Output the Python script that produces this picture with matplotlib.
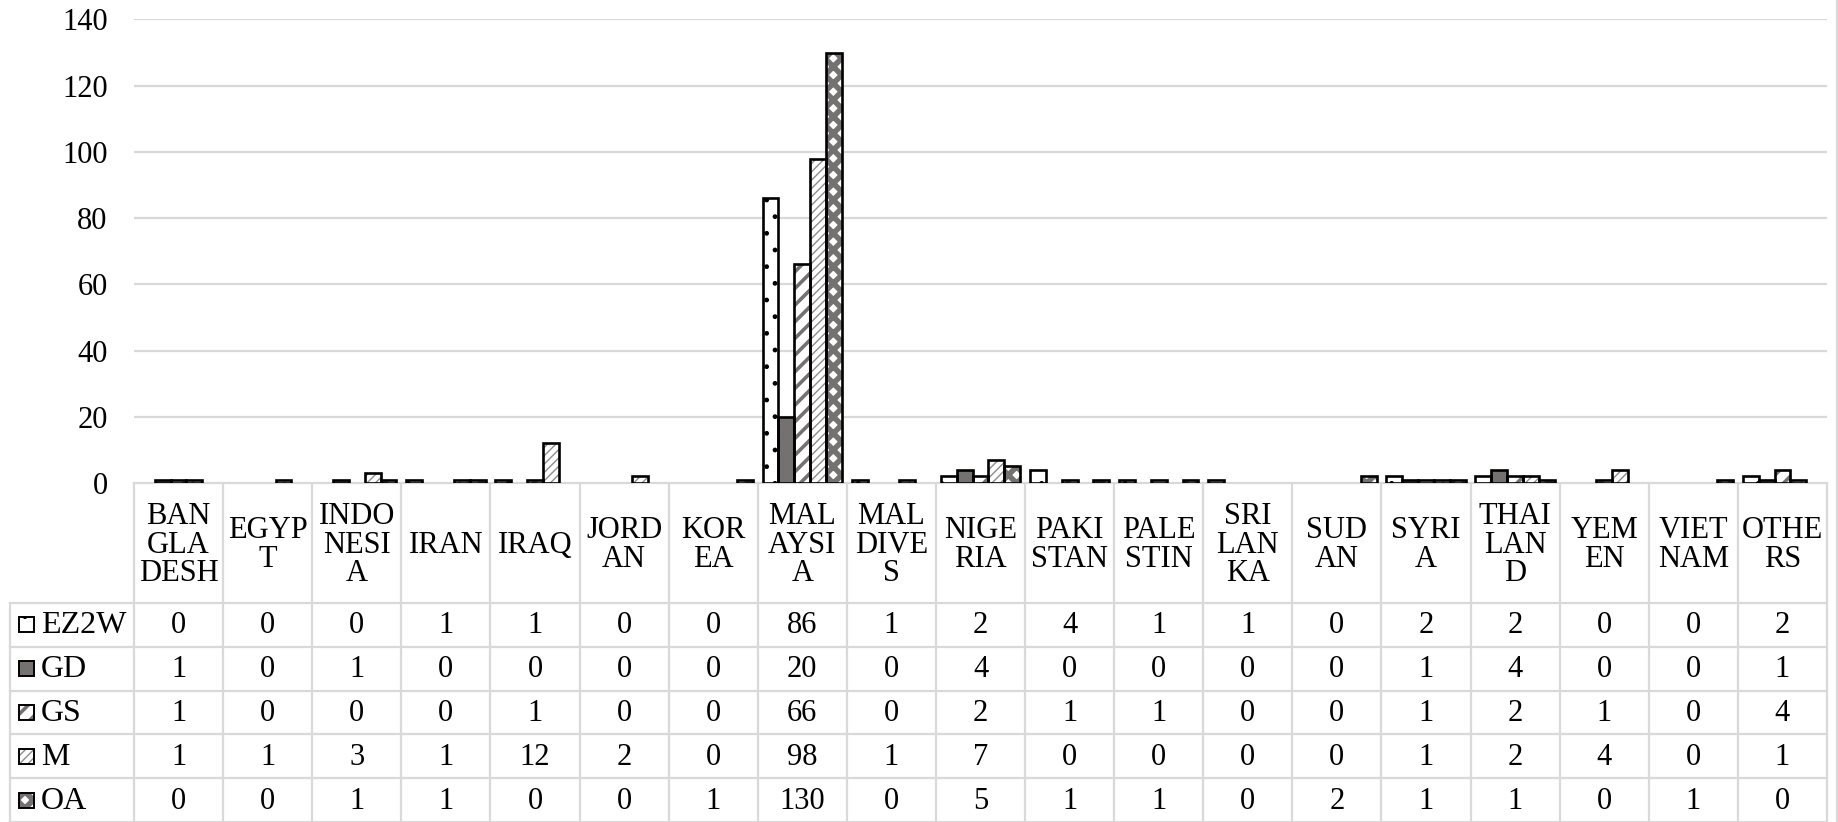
import matplotlib
matplotlib.use("Agg")
import matplotlib.pyplot as plt
import numpy as np
from matplotlib.patches import Rectangle

# ─── Data ─────────────────────────────────────────────────────────────────────
categories = ["BANGLADESH", "EGYPT", "INDONESIA", "IRAN", "IRAQ", "JORDAN",
              "KOREA", "MALAYSIA", "MALDIVES", "NIGERIA", "PAKISTAN",
              "PALESTIN", "SRI LANKA", "SUDAN", "SYRIA", "THAILAND", "YEMEN",
              "VIETNAM", "OTHERS"]
header_labels = ["BAN\nGLA\nDESH", "EGYP\nT", "INDO\nNESI\nA", "IRAN", "IRAQ",
                 "JORD\nAN", "KOR\nEA", "MAL\nAYSI\nA", "MAL\nDIVE\nS",
                 "NIGE\nRIA", "PAKI\nSTAN", "PALE\nSTIN", "SRI\nLAN\nKA",
                 "SUD\nAN", "SYRI\nA", "THAI\nLAN\nD", "YEM\nEN", "VIET\nNAM",
                 "OTHE\nRS"]
series_names = ["EZ2W", "GD", "GS", "M", "OA"]
ez2w = [0, 0, 0, 1, 1, 0, 0, 86, 1, 2, 4, 1, 1, 0, 2, 2, 0, 0, 2]
gd   = [1, 0, 1, 0, 0, 0, 0, 20, 0, 4, 0, 0, 0, 0, 1, 4, 0, 0, 1]
gs   = [1, 0, 0, 0, 1, 0, 0, 66, 0, 2, 1, 1, 0, 0, 1, 2, 1, 0, 4]
m    = [1, 1, 3, 1, 12, 2, 0, 98, 1, 7, 0, 0, 0, 0, 1, 2, 4, 0, 1]
oa   = [0, 0, 1, 1, 0, 0, 1, 130, 0, 5, 1, 1, 0, 2, 1, 1, 0, 1, 0]
series = [ez2w, gd, gs, m, oa]
yticks = [0, 20, 40, 60, 80, 100, 120, 140]

# ─── Styles (face, hatch, hatch colour, hatch width) ─────────────────────────
GRAY = "#767171"
styles = [
    dict(face="white", hatch=".",    hcolor="black", hlw=1.0),
    dict(face=GRAY,    hatch=None,   hcolor=GRAY,    hlw=1.0),
    dict(face="white", hatch="//",   hcolor=GRAY,    hlw=2.6),
    dict(face="white", hatch="////", hcolor="#8c8c8c", hlw=1.0),
    dict(face="white", hatch="xx",   hcolor=GRAY,    hlw=4.0),
]
GRID = "#d9d9d9"
FONT = "Liberation Serif"
FS = 22

W, H = 1838, 822
x0, x1 = 134, 1827          # plot / table horizontal extent (px)
y_top, y_base = 19.5, 483   # y=140 and y=0 (px)
header_bot = 603
row_h = 43.8
legend_left = 10


def styled_patch(p, st):
    p.set_facecolor(st["face"])
    if st["hatch"]:
        p.set_hatch(st["hatch"])
        p.set_edgecolor(st["hcolor"])
        try:
            p.set_hatch_linewidth(st["hlw"])
        except AttributeError:
            pass
    else:
        p.set_edgecolor(st["face"])
    p.set_linewidth(0)


plt.rcParams["font.family"] = [FONT, "DejaVu Serif"]
fig = plt.figure(figsize=(W / 100, H / 100), dpi=100)

ax = fig.add_axes([x0 / W, 1 - y_base / H, (x1 - x0) / W, (y_base - y_top) / H])
ax.set_xlim(-0.5, len(categories) - 0.5)
ax.set_ylim(0, 140)
ax.set_yticks(yticks)
ax.set_yticklabels([str(t) for t in yticks], fontsize=FS)
ax.tick_params(axis="y", length=0, pad=19)
ax.set_xticks([])
ax.yaxis.grid(True, color=GRID, linewidth=1.6)
ax.set_axisbelow(True)
for s in ax.spines.values():
    s.set_visible(False)

n = len(series)
bw = 0.178
xs = np.arange(len(categories))
for k, (vals, st) in enumerate(zip(series, styles)):
    vals = np.array(vals, dtype=float)
    keep = vals > 0
    pos = xs[keep] + (k - (n - 1) / 2) * bw
    bars = ax.bar(pos, vals[keep], width=bw, zorder=2)
    for b in bars:
        styled_patch(b, st)
    ax.bar(pos, vals[keep], width=bw, fill=False, edgecolor="black",
           linewidth=1.9, zorder=3)

# ─── Data table (pixel coordinates) ──────────────────────────────────────────
tab = fig.add_axes([0, 0, 1, 1], zorder=-1)
tab.set_xlim(0, W)
tab.set_ylim(H, 0)
tab.axis("off")

col_w = (x1 - x0) / len(categories)
row_tops = [header_bot + i * row_h for i in range(n + 1)]

# horizontal lines
tab.plot([x0, x1], [y_base, y_base], color=GRID, lw=1.6)
for yy in row_tops:
    tab.plot([legend_left, x1], [yy, yy], color=GRID, lw=1.6)
# vertical lines
for i in range(len(categories) + 1):
    xx = x0 + i * col_w
    tab.plot([xx, xx], [y_base, H], color=GRID, lw=1.6)
tab.plot([legend_left, legend_left], [header_bot, H], color=GRID, lw=1.6)
tab.plot([W - 1.5, W - 1.5], [0, H], color=GRID, lw=1.6)

for i, lab in enumerate(header_labels):
    tab.text(x0 + (i + 0.5) * col_w, (y_base + header_bot) / 2 + 2, lab,
             ha="center", va="center", fontsize=FS, linespacing=0.98)

for k, (name, vals, st) in enumerate(zip(series_names, series, styles)):
    yc = row_tops[k] + row_h / 2
    key = Rectangle((19, yc - 7.5), 15, 15)
    styled_patch(key, st)
    tab.add_patch(key)
    tab.add_patch(Rectangle((19, yc - 7.5), 15, 15, fill=False,
                            edgecolor="black", linewidth=1.4))
    tab.text(41, yc + 1, name, ha="left", va="center", fontsize=FS + 1)
    for i, v in enumerate(vals):
        tab.text(x0 + (i + 0.5) * col_w, yc + 1, str(v), ha="center",
                 va="center", fontsize=FS)

fig.savefig("out.png", dpi=100)
